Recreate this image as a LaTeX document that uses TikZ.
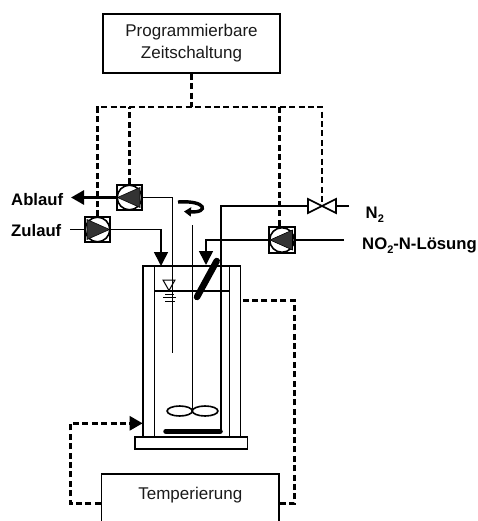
\documentclass[tikz,border=0pt]{standalone}
\usepackage{fontspec}
\setmainfont{Liberation Sans}
\usetikzlibrary{arrows.meta,calc,positioning}
\definecolor{pumpgrey}{HTML}{333333}
\definecolor{textgrey}{HTML}{1A1A1A}
\tikzset{%
	base/.style     = {line width=1.6pt},
	block/.style    = {draw, rectangle, base, inner sep=0pt, text=textgrey, font=\fontsize{17}{22}\selectfont, align=center},
	vessel/.style   = {draw, rectangle, base, inner sep=0pt},
	pump/.style     = {draw, rectangle, base, fill=white, inner sep=0pt, minimum size=25pt}, % Pump housing
	tag/.style      = {inner sep=0pt, font=\fontsize{16.7}{20}\selectfont\bfseries}, % Label
	pipe/.style     = {base}, % Thin line
	flow/.style     = {base, -{Triangle[length=14pt,width=14pt]}}, % Feed with head
	signal/.style   = {line width=2.6pt, dash pattern=on 6pt off 3.4pt}, % Control line
	signalin/.style = {signal, -{Triangle[length=13pt,width=14pt]}},
	heavy/.style    = {line width=6.5pt, line cap=round}, % Probe and stir bar
	waypoint/.style = {coordinate},
	pumpsym/.pic    = {
		\draw[base, fill=white] (0,0) circle (12.3pt);
		\fill[pumpgrey, draw=black, line width=0.6pt] (-12,0) -- (10.5,-10) -- (10.5,10) -- cycle;
	},
}

\begin{document}
\begin{tikzpicture}[x=1pt,y=-1pt]
		\useasboundingbox (0,0) rectangle (478,521);
		\clip (0,0) rectangle (478,521);
		% control boxes
		\node[block, minimum width=177pt, minimum height=59pt] (zeit) at (191.5,43.5) {Programmierbare\\Zeitschaltung};
		\node[block, minimum width=177.3pt, minimum height=59.4pt, text height=12pt, text depth=21pt] (temp) at (190.3,503.7) {Temperierung};
		% reactor
		\node[vessel, minimum width=97.6pt, minimum height=171pt] (jacket) at (191.5,351.5) {};
		\node[vessel, minimum width=75pt, minimum height=171pt] (inner) at (191.8,351.5) {};
		\node[vessel, minimum width=112.7pt, minimum height=11.7pt] (plate) at (191.3,443) {};
		\node[waypoint] (levelL) at (154.3,291) {};
		\node[waypoint] (levelR) at (229.3,291) {};
		\draw[pipe] (levelL) -- (levelR);
		\draw[line width=1pt, fill=white] (163,280) -- (175,280) -- (169,290.5) -- cycle;
		\draw[line width=1pt] (165,294.5) -- (174,294.5) (163,297.5) -- (176,297.5) (165,301) -- (175,301);
		% pumps and valve
		\node[pump] (pab) at (129.5,197.5) {};
		\node[pump] (pzu) at (97.5,229.5) {};
		\node[pump, minimum size=26pt] (pno) at (282,240) {};
		\pic at (pab) {pumpsym};
		\pic[rotate=180] at (pzu) {pumpsym};
		\pic at (pno) {pumpsym};
		\node[waypoint] (valve) at (322,206) {};
		% labels
		\node[tag, anchor=west] (ablauf) at (11,200) {Ablauf};
		\node[tag, anchor=west] (zulauf) at (11,231) {Zulauf};
		\node[tag, anchor=west] (ntwo) at (365.5,215) {N\raisebox{-4pt}{\fontsize{11}{11}\selectfont 2}};
		\node[tag, anchor=west] (nolsg) at (362,245.5) {NO\raisebox{-4pt}{\fontsize{11}{11}\selectfont 2}-N-Lösung};
		% free line ends
		\node[waypoint] (abOut) at (71,197.5) {};
		\node[waypoint] (zuIn) at (70,229.5) {};
		\node[waypoint] (zuTip) at (161,266) {};
		\node[waypoint] (probe) at (172.5,353) {};
		\node[waypoint] (shaftTop) at (192.3,225) {};
		\node[waypoint] (shaftEnd) at (192.3,411) {};
		\node[waypoint] (nIn) at (349,206) {};
		\node[waypoint] (nEnd) at (221.2,430) {};
		\node[waypoint] (noIn) at (344,240) {};
		\node[waypoint] (noTip) at (206,265) {};
		% lines
		\draw[line width=2.8pt, -{Triangle[length=13pt,width=14pt]}] (pab) -- (abOut);
		\draw[pipe] (pab.east) -| (probe);
		\draw[pipe] (zuIn) -- (pzu);
		\draw[flow] (pzu.east) -| (zuTip);
		\draw[pipe] (nIn) -- (valve) -- ($(valve)+(-14,0)$) -| (nEnd);
		\draw[pipe] (noIn) -- (pno.east);
		\draw[flow] (pno.west) -| (noTip);
		\draw[pipe] (shaftTop) -- (shaftEnd);
		\draw[pipe, fill=white] (shaftEnd) ++(-12.6,0) ellipse (12.6 and 5);
		\draw[pipe, fill=white] (shaftEnd) ++(12.8,0) ellipse (12.8 and 5);
		\draw[heavy] (197,297) -- (216.7,261);
		\draw[line width=5.5pt, line cap=round] (166,431.3) -- (220,431.3);
		\draw[line width=3.4pt, -{Triangle[length=7pt,width=9pt]}] (178,202) .. controls (207,200) and (209,213) .. (184,211.5);
		% valve body
		\draw[base, fill=white] ($(valve)+(-14,-7)$) -- ($(valve)+(14,7)$) -- ($(valve)+(14,-7)$) -- ($(valve)+(-14,7)$) -- cycle;
		% control lines
		\node[waypoint] (busL) at (97.5,107) {};
		\node[waypoint] (busR) at (322,107) {};
		\node[waypoint] (busN) at (279.5,107) {};
		\draw[signal] (zeit.south) -- (zeit.south |- busL);
		\draw[signal] (pzu.north) -- (busL) -- (busR) -- (valve);
		\draw[signal] (pab.north) -- (pab.north |- busL);
		\draw[signal] (busN) -- (busN |- pno.north);
		\node[waypoint] (backEnd) at (243,300.7) {};
		\node[waypoint] (jacketIn) at (142.7,423.3) {};
		\draw[signal] (temp.east) -| (294.3,300.7) -- (backEnd);
		\draw[signalin] (temp.west) -| (70.7,423.3) -- (jacketIn);
		\end{tikzpicture}
\end{document}
